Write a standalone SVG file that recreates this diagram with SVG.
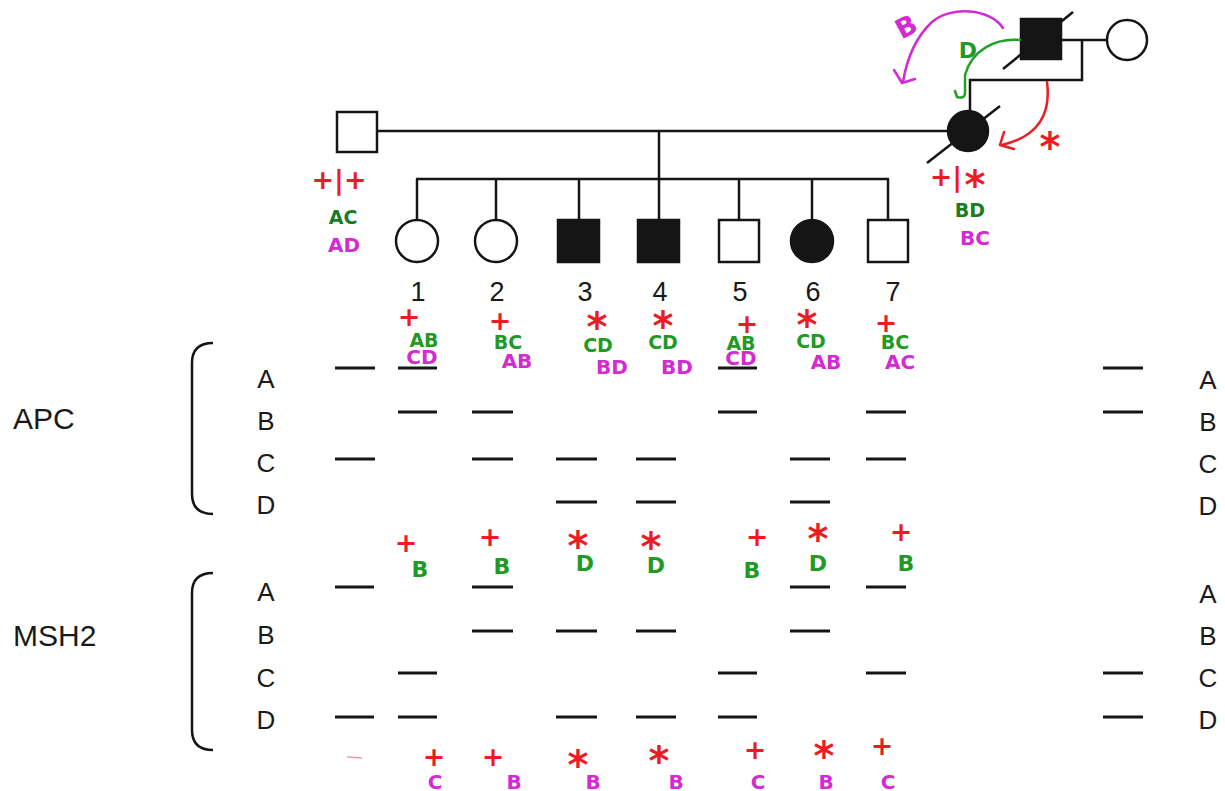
<svg xmlns="http://www.w3.org/2000/svg" width="1225" height="791" viewBox="0 0 1225 791">
  <style>
    .ln { stroke: #151515; stroke-width: 2.5; fill: none; }
    .open { fill: #ffffff; stroke: #151515; stroke-width: 2.5; }
    .aff { fill: #151515; stroke: #151515; stroke-width: 2.5; }
    .band { stroke: #151515; stroke-width: 3; stroke-linecap: butt; }
    .lbl { font-family: "Liberation Sans", Arial, sans-serif; fill: #1a1a1a; font-size: 30px; }
    .num { font-family: "Liberation Sans", Arial, sans-serif; font-size: 27px; fill: #1a1a1a; text-anchor: middle; }
    .row { font-family: "Liberation Sans", Arial, sans-serif; font-size: 26px; fill: #1a1a1a; text-anchor: middle; }
    .hw { font-family: "DejaVu Sans", sans-serif; font-weight: 700; text-anchor: middle; }
    .plus { fill: #ec1c24; font-size: 27px; }
    .star { fill: #ec1c24; font-size: 40px; }
    .g { fill: #1f9a24; font-size: 19px; }
    .m { fill: #d42ad2; font-size: 20px; }
    .big { font-size: 22px; }
    .dark { fill: #1a7d1f; }
    .rs { stroke: #ec1c24; }
    .gs { stroke: #22a02a; }
    .ms { stroke: #d42ad2; }
    .arr { fill: none; stroke-width: 2.5; stroke-linecap: round; stroke-linejoin: round; }
  </style>

  <!-- pedigree connectors -->
  <g id="connectors">
    <!-- grandparents mating line and descent -->
    <line class="ln" x1="1061" y1="40" x2="1107" y2="40"/>
    <polyline class="ln" points="1082,40 1082,80 970,80 970,111"/>
    <!-- parents mating line and descent -->
    <line class="ln" x1="377" y1="131" x2="948" y2="131"/>
    <line class="ln" x1="659" y1="131" x2="659" y2="179"/>
    <!-- sibship line -->
    <line class="ln" x1="416" y1="179" x2="889" y2="179"/>
    <line class="ln" x1="417" y1="179" x2="417" y2="220"/>
    <line class="ln" x1="496" y1="179" x2="496" y2="220"/>
    <line class="ln" x1="579" y1="179" x2="579" y2="220"/>
    <line class="ln" x1="659" y1="179" x2="659" y2="220"/>
    <line class="ln" x1="739" y1="179" x2="739" y2="220"/>
    <line class="ln" x1="812" y1="179" x2="812" y2="220"/>
    <line class="ln" x1="888" y1="179" x2="888" y2="220"/>
  </g>

  <!-- grandfather (affected, deceased) -->
  <g id="grandfather">
    <line class="ln" x1="1003" y1="69" x2="1073" y2="12"/>
    <rect class="aff" x="1021" y="19" width="40" height="40"/>
  </g>

  <!-- grandmother -->
  <g id="grandmother">
    <circle class="open" cx="1127" cy="40" r="20"/>
  </g>

  <!-- father -->
  <g id="father">
    <rect class="open" x="337" y="112" width="40" height="40"/>
    <text class="hw plus" x="339" y="189">+|+</text>
    <text class="hw g dark" x="343" y="224">AC</text>
    <text class="hw m" x="344" y="252">AD</text>
  </g>

  <!-- mother (affected, deceased) -->
  <g id="mother">
    <line class="ln" x1="927" y1="163" x2="1000" y2="106"/>
    <circle class="aff" cx="968" cy="131" r="20"/>
    <text class="hw plus" x="946" y="186">+|</text>
    <text class="hw star" x="975" y="199">*</text>
    <text class="hw g dark" x="970" y="217">BD</text>
    <text class="hw m" x="975" y="245">BC</text>
  </g>

  <!-- inheritance arrows from the grandfather -->
  <g id="transmission">
    <path class="arr ms" d="M1003,28 C990,8 950,6 932,22 C917,36 907,58 903,82"/>
    <path class="arr ms" d="M894,70 L902,83 L915,79"/>
    <text class="hw m" x="906" y="36" style="font-size:27px" transform="rotate(-28 906 26)">B</text>
    <path class="arr gs" d="M1020,40 C995,38 972,50 965,75 L965,94 Q964,99 957,97 L955,91"/>
    <text class="hw g big" x="968" y="58">D</text>
    <path class="arr rs" d="M1047,82 C1051,112 1040,136 1002,145"/>
    <path class="arr rs" d="M1004,132 L1000,145 L1014,149"/>
    <text class="hw star" x="1050" y="161">*</text>
  </g>

  <!-- children -->
  <g id="child-1">
    <circle class="open" cx="417" cy="241" r="21"/>
    <text class="num" x="418" y="301">1</text>
    <text class="hw plus" x="409" y="326">+</text>
    <text class="hw g" x="424" y="347">AB</text>
    <text class="hw m" x="422" y="364">CD</text>
  </g>
  <g id="child-2">
    <circle class="open" cx="496" cy="241" r="21"/>
    <text class="num" x="497" y="301">2</text>
    <text class="hw plus" x="500" y="330">+</text>
    <text class="hw g" x="508" y="349">BC</text>
    <text class="hw m" x="517" y="368">AB</text>
  </g>
  <g id="child-3">
    <rect class="aff" x="558" y="220" width="41" height="42"/>
    <text class="num" x="585" y="301">3</text>
    <text class="hw star" x="597" y="341">*</text>
    <text class="hw g" x="598" y="352">CD</text>
    <text class="hw m" x="612" y="374">BD</text>
  </g>
  <g id="child-4">
    <rect class="aff" x="638" y="220" width="41" height="42"/>
    <text class="num" x="660" y="301">4</text>
    <text class="hw star" x="663" y="340">*</text>
    <text class="hw g" x="663" y="349">CD</text>
    <text class="hw m" x="677" y="374">BD</text>
  </g>
  <g id="child-5">
    <rect class="open" x="719" y="220" width="40" height="42"/>
    <text class="num" x="740" y="301">5</text>
    <text class="hw plus" x="747" y="333">+</text>
    <text class="hw g" x="741" y="350">AB</text>
    <text class="hw m" x="741" y="365">CD</text>
  </g>
  <g id="child-6">
    <circle class="aff" cx="812" cy="241" r="21"/>
    <text class="num" x="813" y="301">6</text>
    <text class="hw star" x="807" y="339">*</text>
    <text class="hw g" x="811" y="348">CD</text>
    <text class="hw m" x="826" y="369">AB</text>
  </g>
  <g id="child-7">
    <rect class="open" x="868" y="220" width="40" height="42"/>
    <text class="num" x="893" y="301">7</text>
    <text class="hw plus" x="886" y="332">+</text>
    <text class="hw g" x="895" y="349">BC</text>
    <text class="hw m" x="900" y="369">AC</text>
  </g>

  <!-- APC marker gel -->
  <g id="apc">
    <text class="lbl" x="13" y="429">APC</text>
    <path class="ln" d="M213,343 Q192,343 192,363 L192,494 Q192,514 213,514"/>
    <text class="row" x="266" y="388">A</text>
    <text class="row" x="266" y="430">B</text>
    <text class="row" x="266" y="472">C</text>
    <text class="row" x="266" y="514">D</text>
    <text class="row" x="1208" y="389">A</text>
    <text class="row" x="1208" y="431">B</text>
    <text class="row" x="1208" y="473">C</text>
    <text class="row" x="1208" y="515">D</text>
    <!-- allele A -->
    <line class="band" x1="335" y1="368" x2="375" y2="368"/>
    <line class="band" x1="398" y1="368" x2="437" y2="368"/>
    <line class="band" x1="718" y1="368" x2="757" y2="368"/>
    <line class="band" x1="1103" y1="368" x2="1143" y2="368"/>
    <!-- allele B -->
    <line class="band" x1="398" y1="412" x2="437" y2="412"/>
    <line class="band" x1="472" y1="412" x2="513" y2="412"/>
    <line class="band" x1="718" y1="412" x2="757" y2="412"/>
    <line class="band" x1="866" y1="412" x2="906" y2="412"/>
    <line class="band" x1="1103" y1="412" x2="1143" y2="412"/>
    <!-- allele C -->
    <line class="band" x1="335" y1="459" x2="375" y2="459"/>
    <line class="band" x1="472" y1="459" x2="513" y2="459"/>
    <line class="band" x1="556" y1="459" x2="597" y2="459"/>
    <line class="band" x1="636" y1="459" x2="676" y2="459"/>
    <line class="band" x1="790" y1="459" x2="830" y2="459"/>
    <line class="band" x1="866" y1="459" x2="906" y2="459"/>
    <!-- allele D -->
    <line class="band" x1="556" y1="502" x2="597" y2="502"/>
    <line class="band" x1="636" y1="502" x2="676" y2="502"/>
    <line class="band" x1="790" y1="502" x2="830" y2="502"/>
  </g>

  <!-- haplotype notes between the gels -->
  <g id="msh2-upper-notes">
    <text class="hw plus" x="406" y="552">+</text>
    <text class="hw g big" x="420" y="577">B</text>
    <text class="hw plus" x="490" y="546">+</text>
    <text class="hw g big" x="502" y="574">B</text>
    <text class="hw star" x="578" y="560">*</text>
    <text class="hw g big" x="585" y="571">D</text>
    <text class="hw star" x="651" y="561">*</text>
    <text class="hw g big" x="656" y="573">D</text>
    <text class="hw plus" x="757" y="546">+</text>
    <text class="hw g big" x="752" y="578">B</text>
    <text class="hw star" x="818" y="553">*</text>
    <text class="hw g big" x="818" y="571">D</text>
    <text class="hw plus" x="901" y="541">+</text>
    <text class="hw g big" x="906" y="571">B</text>
  </g>

  <!-- MSH2 marker gel -->
  <g id="msh2">
    <text class="lbl" x="13" y="646">MSH2</text>
    <path class="ln" d="M213,573 Q192,573 192,593 L192,730 Q192,750 213,750"/>
    <text class="row" x="266" y="601">A</text>
    <text class="row" x="266" y="644">B</text>
    <text class="row" x="266" y="687">C</text>
    <text class="row" x="266" y="729">D</text>
    <text class="row" x="1208" y="603">A</text>
    <text class="row" x="1208" y="645">B</text>
    <text class="row" x="1208" y="687">C</text>
    <text class="row" x="1208" y="729">D</text>
    <!-- allele A -->
    <line class="band" x1="335" y1="587" x2="374" y2="587"/>
    <line class="band" x1="472" y1="587" x2="513" y2="587"/>
    <line class="band" x1="790" y1="587" x2="830" y2="587"/>
    <line class="band" x1="866" y1="587" x2="906" y2="587"/>
    <!-- allele B -->
    <line class="band" x1="472" y1="631" x2="513" y2="631"/>
    <line class="band" x1="556" y1="631" x2="597" y2="631"/>
    <line class="band" x1="636" y1="631" x2="676" y2="631"/>
    <line class="band" x1="790" y1="631" x2="830" y2="631"/>
    <!-- allele C -->
    <line class="band" x1="398" y1="673" x2="437" y2="673"/>
    <line class="band" x1="718" y1="673" x2="757" y2="673"/>
    <line class="band" x1="866" y1="673" x2="906" y2="673"/>
    <line class="band" x1="1103" y1="673" x2="1143" y2="673"/>
    <!-- allele D -->
    <line class="band" x1="335" y1="717" x2="374" y2="717"/>
    <line class="band" x1="398" y1="717" x2="437" y2="717"/>
    <line class="band" x1="556" y1="717" x2="597" y2="717"/>
    <line class="band" x1="636" y1="717" x2="676" y2="717"/>
    <line class="band" x1="718" y1="717" x2="757" y2="717"/>
    <line class="band" x1="1103" y1="717" x2="1143" y2="717"/>
  </g>

  <!-- haplotype notes below the MSH2 gel -->
  <g id="msh2-lower-notes">
    <line x1="347" y1="757" x2="362" y2="758" stroke="#e9a0a0" stroke-width="1.5"/>
    <text class="hw plus" x="434" y="766">+</text>
    <text class="hw m" x="435" y="789">C</text>
    <text class="hw plus" x="493" y="766">+</text>
    <text class="hw m" x="514" y="789">B</text>
    <text class="hw star" x="578" y="779">*</text>
    <text class="hw m" x="593" y="789">B</text>
    <text class="hw star" x="659" y="775">*</text>
    <text class="hw m" x="676" y="789">B</text>
    <text class="hw plus" x="755" y="759">+</text>
    <text class="hw m" x="758" y="789">C</text>
    <text class="hw star" x="824" y="770">*</text>
    <text class="hw m" x="826" y="789">B</text>
    <text class="hw plus" x="882" y="755">+</text>
    <text class="hw m" x="888" y="789">C</text>
  </g>
</svg>
